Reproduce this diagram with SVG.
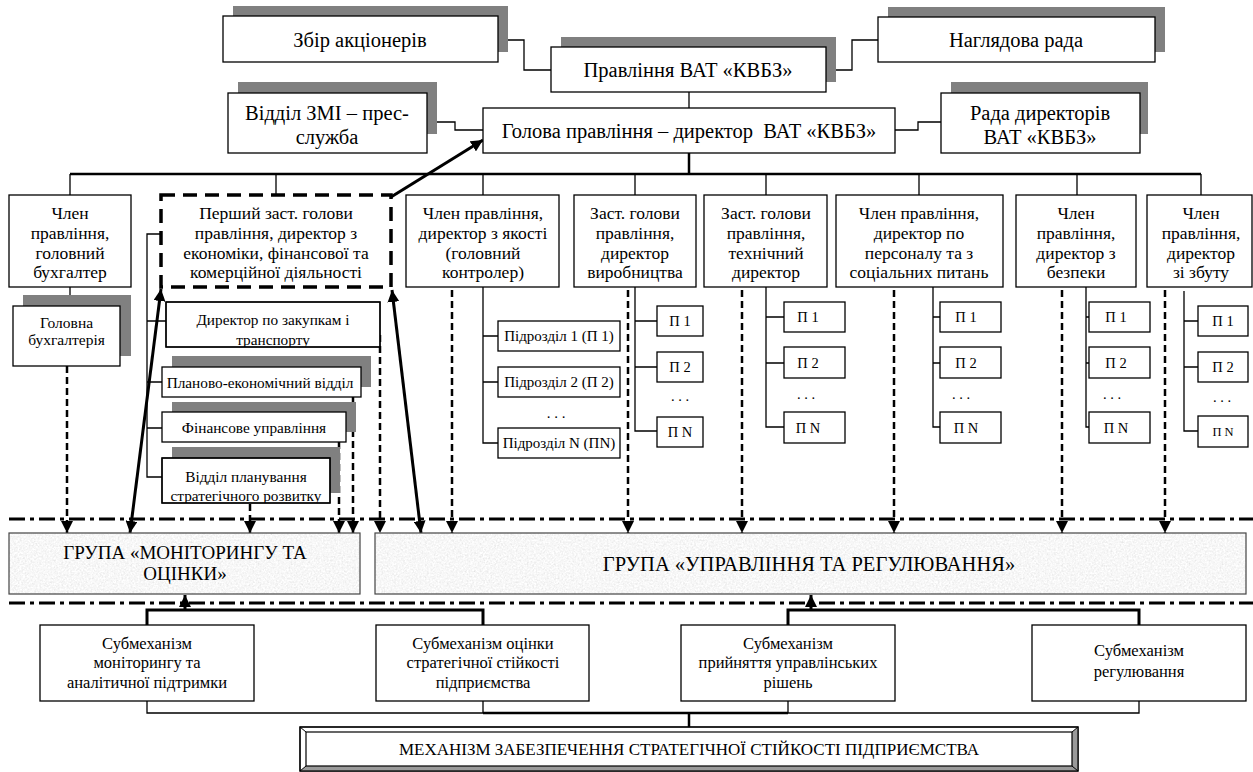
<svg xmlns="http://www.w3.org/2000/svg" width="1253" height="772" viewBox="0 0 1253 772">
  <style>
    .box{fill:#fff;stroke:#000;stroke-width:1.3}
    .shd{fill:#808080}
    .t{font-family:"Liberation Serif","Times New Roman",serif;fill:#000;text-anchor:middle}
    .f20{font-size:20.5px}
    .fgl{font-size:19px}
    .fgr{font-size:20.5px}
    .fs{font-size:17.5px}
    .f15{font-size:15.5px}
    .fd{font-size:15.3px}
    .fu{font-size:15px}
    .fp{font-size:14.5px}
    .f12{font-size:12.5px}
    .fm{font-size:16.5px}
    .fmech{font-size:17px}
    .ln{fill:none;stroke:#000;stroke-width:1.3}
    .bold{fill:none;stroke:#000;stroke-width:3}
    .dsh{fill:none;stroke:#000;stroke-width:2.5;stroke-dasharray:7 4}
    .dd{fill:none;stroke:#000;stroke-width:3;stroke-dasharray:16 5 4 5}
    .grp{stroke:#444;stroke-width:1.2}
  </style>
  <defs>
    <marker id="ah" viewBox="0 0 12 12" refX="12" refY="6" markerWidth="12" markerHeight="12" markerUnits="userSpaceOnUse" orient="auto-start-reverse">
      <path d="M0,0 L12,6 L0,12 z" fill="#000"/>
    </marker>
    <filter id="granite" x="0" y="0" width="100%" height="100%">
      <feTurbulence type="fractalNoise" baseFrequency="0.55" numOctaves="3" seed="7" result="n"/>
      <feColorMatrix in="n" type="matrix" values="0.33 0.33 0.33 0 0  0.33 0.33 0.33 0 0  0.33 0.33 0.33 0 0  0 0 0 0 1" result="g"/>
      <feComponentTransfer in="g" result="lt">
        <feFuncR type="linear" slope="0.55" intercept="0.66"/>
        <feFuncG type="linear" slope="0.55" intercept="0.66"/>
        <feFuncB type="linear" slope="0.55" intercept="0.66"/>
      </feComponentTransfer>
      <feComposite in="lt" in2="SourceGraphic" operator="in"/>
    </filter>
    <clipPath id="clipZak"><rect x="166" y="302" width="214" height="45"/></clipPath>
    <clipPath id="clipVpl"><rect x="162" y="458" width="168" height="45"/></clipPath>
  </defs>

  <!-- connectors -->
  <g id="connectors">
    <!-- top management links -->
    <path class="ln" d="M498,40 H524 V70 H551"/>
    <path class="ln" d="M826,70 H852 V40 H878"/>
    <path class="ln" d="M689,92 V108"/>
    <path class="ln" d="M427,122 H455 V130 H483"/>
    <path class="ln" d="M895,130 H918 V122 H941"/>
    <path class="bold" d="M689,153 V174" style="stroke-width:2.5"/>
    <path class="bold" d="M70,174 H1201" style="stroke-width:2.5"/>
    <path class="ln" d="M70,174 V195 M276,174 V195 M483,174 V195 M635,174 V195 M766,174 V195 M919,174 V195 M1077,174 V195 M1201,174 V195"/>
    <!-- chief accountant -->
    <path class="ln" d="M70,287 V306"/>
    <!-- first deputy departments -->
    <path class="ln" d="M161,234 H147 V477 H162 M147,321 H166 M147,382 H162 M147,428 H162"/>
    <!-- quality director units -->
    <path class="ln" d="M483,287 V443 H498 M483,336 H498 M483,382 H498"/>
    <!-- production units -->
    <path class="ln" d="M635,287 V431 H657 M635,321 H657 M635,367 H657"/>
    <!-- technical units -->
    <path class="ln" d="M766,287 V427 H784 M766,317 H784 M766,363 H784"/>
    <!-- personnel units -->
    <path class="ln" d="M933,287 V427 H940 M933,317 H940 M933,363 H940"/>
    <!-- security units -->
    <path class="ln" d="M1086,287 V427 H1089 M1086,317 H1089 M1086,363 H1089"/>
    <!-- sales units -->
    <path class="ln" d="M1184,291 V431 H1198 M1184,321 H1198 M1184,367 H1198"/>

    <!-- group boundary lines -->
    <path class="dd" d="M9,519 H1253"/>
    <path class="dd" d="M9,603 H1253"/>

    <!-- dashed reporting lines to groups -->
    <path class="dsh" d="M67,366 V533" marker-end="url(#ah)"/>
    <path class="dsh" d="M250,504 V533" marker-end="url(#ah)"/>
    <path class="dsh" d="M339,442 V533" marker-end="url(#ah)"/>
    <path class="dsh" d="M353,397 V533" marker-end="url(#ah)"/>
    <path class="dsh" d="M380,335 V533" marker-end="url(#ah)"/>
    <path class="dsh" d="M452,290 V533" marker-end="url(#ah)"/>
    <path class="dsh" d="M628,290 V533" marker-end="url(#ah)"/>
    <path class="dsh" d="M742,290 V533" marker-end="url(#ah)"/>
    <path class="dsh" d="M894,290 V533" marker-end="url(#ah)"/>
    <path class="dsh" d="M1062,290 V533" marker-end="url(#ah)"/>
    <path class="dsh" d="M1165,290 V533" marker-end="url(#ah)"/>

    <!-- bold links of the first deputy -->
    <path class="bold" d="M391,197 L483,140" marker-end="url(#ah)"/>
    <path class="bold" d="M161,289 L130,533" marker-start="url(#ah)" marker-end="url(#ah)"/>
    <path class="bold" d="M392,290 L421,533" marker-start="url(#ah)" marker-end="url(#ah)"/>

    <!-- submechanisms to groups -->
    <path class="bold" d="M147,625 V610 H483 V625"/>
    <path class="bold" d="M185,610 V595" marker-end="url(#ah)"/>
    <path class="bold" d="M788,625 V610 H1139 V625"/>
    <path class="bold" d="M811,610 V595" marker-end="url(#ah)"/>

    <!-- submechanisms to the mechanism -->
    <path class="ln" d="M147,701 V713 H483 V701"/>
    <path class="ln" d="M788,701 V713 H1139 V701"/>
    <path class="bold" d="M483,713 H788" style="stroke-width:2.5"/>
    <path class="bold" d="M689,713 V732" style="stroke-width:2.5"/>
  </g>

  <!-- top level -->
  <g id="zbir">
    <rect class="shd" x="233" y="6" width="275" height="46"/>
    <rect class="box" x="223" y="16" width="275" height="46"/>
    <text class="t f20" x="360" y="46.5">Збір акціонерів</text>
  </g>
  <g id="pravlinnia">
    <rect class="shd" x="561" y="37" width="275" height="45"/>
    <rect class="box" x="551" y="47" width="275" height="45"/>
    <text class="t f20" x="688" y="77">Правління ВАТ «КВБЗ»</text>
  </g>
  <g id="nahliadova">
    <rect class="shd" x="888" y="7" width="277" height="45"/>
    <rect class="box" x="878" y="17" width="277" height="45"/>
    <text class="t f20" x="1016" y="46.5">Наглядова рада</text>
  </g>
  <g id="zmi">
    <rect class="shd" x="238" y="82" width="199" height="52"/>
    <rect class="box" x="228" y="93" width="199" height="60"/>
    <text class="t f20" x="327" y="120">Відділ ЗМІ – прес-</text>
    <text class="t f20" x="327" y="144">служба</text>
  </g>
  <g id="holova">
    <rect class="box" x="483" y="108" width="412" height="45"/>
    <text class="t f20" x="689" y="138" xml:space="preserve">Голова правління – директор  ВАТ «КВБЗ»</text>
  </g>
  <g id="rada">
    <rect class="shd" x="951" y="82" width="197" height="52"/>
    <rect class="box" x="941" y="93" width="199" height="60"/>
    <text class="t f20" x="1040" y="120">Рада директорів</text>
    <text class="t f20" x="1040" y="144">ВАТ «КВБЗ»</text>
  </g>

  <!-- board members -->
  <g id="chief-accountant">
    <rect class="box" x="9" y="195" width="122" height="92"/>
    <text class="t fs" x="70"><tspan x="70" y="219">Член</tspan><tspan x="70" y="239">правління,</tspan><tspan x="70" y="259">головний</tspan><tspan x="70" y="278">бухгалтер</tspan></text>
  </g>
  <g id="first-deputy">
    <rect x="161" y="195" width="230" height="92" fill="#fff" stroke="#000" stroke-width="3.5" stroke-dasharray="14 8"/>
    <text class="t fs" x="276"><tspan x="276" y="219">Перший заст. голови</tspan><tspan x="276" y="239">правління, директор з</tspan><tspan x="276" y="259">економіки, фінансової та</tspan><tspan x="276" y="278">комерційної діяльності</tspan></text>
  </g>
  <g id="quality">
    <rect class="box" x="406" y="195" width="153" height="92"/>
    <text class="t fs" x="483"><tspan x="483" y="219">Член правління,</tspan><tspan x="483" y="239">директор з якості</tspan><tspan x="483" y="259">(головний</tspan><tspan x="483" y="278">контролер)</tspan></text>
  </g>
  <g id="production">
    <rect class="box" x="574" y="195" width="122" height="92"/>
    <text class="t fs" x="635"><tspan x="635" y="219">Заст. голови</tspan><tspan x="635" y="239">правління,</tspan><tspan x="635" y="259">директор</tspan><tspan x="635" y="278">виробництва</tspan></text>
  </g>
  <g id="technical">
    <rect class="box" x="704" y="195" width="123" height="92"/>
    <text class="t fs" x="766"><tspan x="766" y="219">Заст. голови</tspan><tspan x="766" y="239">правління,</tspan><tspan x="766" y="259">технічний</tspan><tspan x="766" y="278">директор</tspan></text>
  </g>
  <g id="personnel">
    <rect class="box" x="836" y="195" width="167" height="92"/>
    <text class="t fs" x="919"><tspan x="919" y="219">Член правління,</tspan><tspan x="919" y="239">директор по</tspan><tspan x="919" y="259">персоналу та з</tspan><tspan x="919" y="278">соціальних питань</tspan></text>
  </g>
  <g id="security">
    <rect class="box" x="1016" y="195" width="120" height="92"/>
    <text class="t fs" x="1076"><tspan x="1076" y="219">Член</tspan><tspan x="1076" y="239">правління,</tspan><tspan x="1076" y="259">директор з</tspan><tspan x="1076" y="278">безпеки</tspan></text>
  </g>
  <g id="sales">
    <rect class="box" x="1147" y="195" width="105" height="92"/>
    <text class="t fs" x="1201"><tspan x="1201" y="219">Член</tspan><tspan x="1201" y="239">правління,</tspan><tspan x="1201" y="259">директор</tspan><tspan x="1201" y="278">зі збуту</tspan></text>
  </g>

  <!-- accounting -->
  <g id="accounting">
    <rect class="shd" x="23" y="295" width="108" height="61"/>
    <rect class="box" x="13" y="306" width="107" height="60"/>
    <text class="t f15" x="66.5"><tspan x="66.5" y="327.5">Головна</tspan><tspan x="66.5" y="344.5">бухгалтерія</tspan></text>
  </g>

  <!-- departments of the first deputy -->
  <g id="purchasing">
    <rect class="box" x="166" y="302" width="214" height="45"/>
    <text class="t fd" x="273" clip-path="url(#clipZak)"><tspan x="273" y="324.5">Директор по закупкам і</tspan><tspan x="273" y="344.5">транспорту</tspan></text>
    <rect x="166" y="302" width="214" height="45" fill="none" stroke="#000" stroke-width="1.3"/>
  </g>
  <g id="planning-economic">
    <rect class="shd" x="172" y="356" width="199" height="31"/>
    <rect class="box" x="162" y="367" width="199" height="30"/>
    <text class="t fd" x="260" y="387.5">Планово-економічний відділ</text>
  </g>
  <g id="finance">
    <rect class="shd" x="172" y="402" width="184" height="30"/>
    <rect class="box" x="162" y="412" width="184" height="30"/>
    <text class="t fd" x="254" y="433">Фінансове управління</text>
  </g>
  <g id="strategic-planning">
    <rect class="shd" x="172" y="447" width="168" height="46"/>
    <rect class="box" x="162" y="458" width="168" height="45"/>
    <text class="t fd" x="246" clip-path="url(#clipVpl)"><tspan x="246" y="481.5">Відділ планування</tspan><tspan x="246" y="500.5">стратегічного розвитку</tspan></text>
    <rect x="162" y="458" width="168" height="45" fill="none" stroke="#000" stroke-width="1.3"/>
  </g>

  <!-- quality subdivisions -->
  <g id="quality-units">
    <rect class="box" x="498" y="321" width="122" height="30"/>
    <text class="t fu" x="559" y="341">Підрозділ 1 (П 1)</text>
    <rect class="box" x="498" y="367" width="122" height="30"/>
    <text class="t fu" x="559" y="387">Підрозділ 2 (П 2)</text>
    <text class="t fu" x="556" y="418">. . .</text>
    <rect class="box" x="498" y="428" width="122" height="30"/>
    <text class="t fu" x="559" y="448">Підрозділ N (ПN)</text>
  </g>
  <g id="production-units">
    <rect class="box" x="657" y="306" width="46" height="30"/>
    <text class="t fp" x="680" y="326">П 1</text>
    <rect class="box" x="657" y="352" width="46" height="30"/>
    <text class="t fp" x="680" y="372">П 2</text>
    <text class="t fp" x="680" y="401">. . .</text>
    <rect class="box" x="657" y="417" width="46" height="30"/>
    <text class="t fp" x="680" y="437">П N</text>
  </g>
  <g id="technical-units">
    <rect class="box" x="784" y="302" width="61" height="30"/>
    <text class="t fp" x="808" y="322">П 1</text>
    <rect class="box" x="784" y="347" width="61" height="31"/>
    <text class="t fp" x="808" y="368">П 2</text>
    <text class="t fp" x="806" y="399">. . .</text>
    <rect class="box" x="784" y="412" width="61" height="31"/>
    <text class="t fp" x="808" y="433">П N</text>
  </g>
  <g id="personnel-units">
    <rect class="box" x="940" y="302" width="61" height="30"/>
    <text class="t fp" x="966" y="322">П 1</text>
    <rect class="box" x="940" y="347" width="61" height="31"/>
    <text class="t fp" x="966" y="368">П 2</text>
    <text class="t fp" x="961" y="399">. . .</text>
    <rect class="box" x="940" y="412" width="61" height="31"/>
    <text class="t fp" x="966" y="433">П N</text>
  </g>
  <g id="security-units">
    <rect class="box" x="1089" y="302" width="61" height="30"/>
    <text class="t fp" x="1116" y="322">П 1</text>
    <rect class="box" x="1089" y="347" width="61" height="31"/>
    <text class="t fp" x="1116" y="368">П 2</text>
    <text class="t fp" x="1112" y="399">. . .</text>
    <rect class="box" x="1089" y="412" width="61" height="31"/>
    <text class="t fp" x="1116" y="433">П N</text>
  </g>
  <g id="sales-units">
    <rect class="box" x="1198" y="306" width="50" height="30"/>
    <text class="t fp" x="1223" y="326">П 1</text>
    <rect class="box" x="1198" y="352" width="50" height="30"/>
    <text class="t fp" x="1223" y="372">П 2</text>
    <text class="t fp" x="1222" y="402">. . .</text>
    <rect class="box" x="1198" y="416" width="50" height="31"/>
    <text class="t f12" x="1223" y="436">П N</text>
  </g>

  <!-- groups -->
  <g id="group-monitoring">
    <rect x="9" y="533" width="351" height="61" fill="#e8e8e8" filter="url(#granite)"/>
    <rect class="grp" x="9" y="533" width="351" height="61" fill="none"/>
    <text class="t fgl" x="185"><tspan x="185" y="558.5">ГРУПА «МОНІТОРИНГУ ТА</tspan><tspan x="185" y="580">ОЦІНКИ»</tspan></text>
  </g>
  <g id="group-management">
    <rect x="375" y="533" width="871" height="61" fill="#e8e8e8" filter="url(#granite)"/>
    <rect class="grp" x="375" y="533" width="871" height="61" fill="none"/>
    <text class="t fgr" x="809" y="570.5">ГРУПА «УПРАВЛІННЯ ТА РЕГУЛЮВАННЯ»</text>
  </g>

  <!-- submechanisms -->
  <g id="sub-monitoring">
    <rect class="box" x="40" y="625" width="214" height="76"/>
    <text class="t fm" x="147"><tspan x="147" y="648.5">Субмеханізм</tspan><tspan x="147" y="668">моніторингу та</tspan><tspan x="147" y="687.5">аналітичної підтримки</tspan></text>
  </g>
  <g id="sub-assessment">
    <rect class="box" x="376" y="625" width="213" height="76"/>
    <text class="t fm" x="483"><tspan x="483" y="648.5">Субмеханізм оцінки</tspan><tspan x="483" y="668">стратегічної стійкості</tspan><tspan x="483" y="687.5">підприємства</tspan></text>
  </g>
  <g id="sub-decisions">
    <rect class="box" x="681" y="625" width="214" height="76"/>
    <text class="t fm" x="788"><tspan x="788" y="648.5">Субмеханізм</tspan><tspan x="788" y="668">прийняття управлінських</tspan><tspan x="788" y="687.5">рішень</tspan></text>
  </g>
  <g id="sub-regulation">
    <rect class="box" x="1032" y="625" width="214" height="76"/>
    <text class="t fm" x="1139"><tspan x="1139" y="655.5">Субмеханізм</tspan><tspan x="1139" y="676.5">регулювання</tspan></text>
  </g>

  <!-- mechanism (bevelled frame) -->
  <g id="mechanism">
    <rect x="300" y="727" width="778" height="44" fill="#fff" stroke="#000" stroke-width="1.2"/>
    <path d="M1078,727 L1072,732 V766 H306 L300,771 H1078 Z" fill="#9a9a9a"/>
    <rect x="306" y="732" width="766" height="34" fill="#fff" stroke="#000" stroke-width="1.2"/>
    <path d="M300,727 L306,732 M1078,727 L1072,732 M300,771 L306,766 M1078,771 L1072,766" stroke="#000" stroke-width="1"/>
    <rect x="300" y="727" width="778" height="44" fill="none" stroke="#000" stroke-width="1.2"/>
    <text class="t fmech" x="689" y="755">МЕХАНІЗМ ЗАБЕЗПЕЧЕННЯ СТРАТЕГІЧНОЇ СТІЙКОСТІ ПІДПРИЄМСТВА</text>
  </g>
</svg>
